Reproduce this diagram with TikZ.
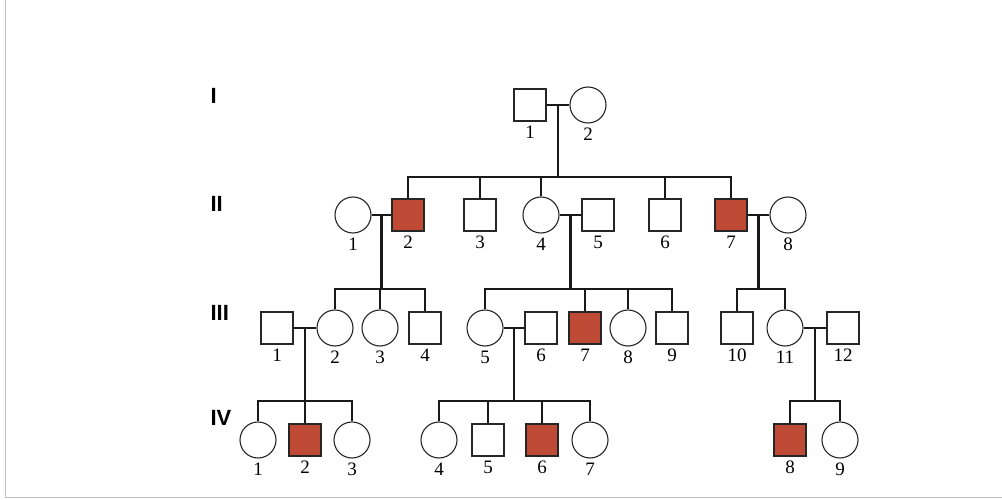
\documentclass[tikz,border=0pt]{standalone}
\usepackage{fontspec}
\setmainfont{Liberation Serif}
\newfontfamily\gensf{Liberation Sans}
\begin{document}
\begin{tikzpicture}[x=1pt,y=-1pt,
  ind/.style={draw=black!85,line width=1.1pt,minimum size=32pt,inner sep=0pt,fill=white,
     label={[font=\fontsize{19}{19}\selectfont,label distance=1pt]below:#1}},
  msq/.style={ind=#1,rectangle},
  fci/.style={ind=#1,circle,minimum size=36pt},
  aff/.style={msq=#1,fill=afc},
  ln/.style={line width=2.4pt,black!90},
  gen/.style={font=\gensf\bfseries\fontsize{22}{22}\selectfont,anchor=west}]
\definecolor{afc}{HTML}{BE4A35}
\useasboundingbox (0,0) rectangle (1002,500);
\draw[black!25,line width=1pt] (5,0) -- (5,497) -- (1002,497);
\node[gen] (gI) at (207,96) {I};
\node[gen] (gII) at (207,204) {II};
\node[gen] (gIII) at (207,313) {III};
\node[gen] (gIV) at (207,418) {IV};
% I
\node[msq=1] (I1) at (530,105) {};
\node[fci=2] (I2) at (588,105) {};
% II
\node[fci=1] (II1) at (353,215) {};
\node[aff=2] (II2) at (408,215) {};
\node[msq=3] (II3) at (480,215) {};
\node[fci=4] (II4) at (541,215) {};
\node[msq=5] (II5) at (598,215) {};
\node[msq=6] (II6) at (665,215) {};
\node[aff=7] (II7) at (731,215) {};
\node[fci=8] (II8) at (788,215) {};
% III
\node[msq=1] (III1) at (277,328) {};
\node[fci=2] (III2) at (335,328) {};
\node[fci=3] (III3) at (380,328) {};
\node[msq=4] (III4) at (425,328) {};
\node[fci=5] (III5) at (485,328) {};
\node[msq=6] (III6) at (541,328) {};
\node[aff=7] (III7) at (585,328) {};
\node[fci=8] (III8) at (628,328) {};
\node[msq=9] (III9) at (672,328) {};
\node[msq=10] (III10) at (737,328) {};
\node[fci=11] (III11) at (785,328) {};
\node[msq=12] (III12) at (843,328) {};
% IV
\node[fci=1] (IV1) at (258,440) {};
\node[aff=2] (IV2) at (305,440) {};
\node[fci=3] (IV3) at (352,440) {};
\node[fci=4] (IV4) at (439,440) {};
\node[msq=5] (IV5) at (488,440) {};
\node[aff=6] (IV6) at (542,440) {};
\node[fci=7] (IV7) at (590,440) {};
\node[aff=8] (IV8) at (790,440) {};
\node[fci=9] (IV9) at (840,440) {};
\coordinate (sA) at (0,177);
\coordinate (sB) at (0,289);
\coordinate (sC) at (0,401);
% matings
\draw[ln] (I1.east) -- coordinate (m1) (I2.west);
\draw[ln] (II1.east) -- coordinate (m2) (II2.west);
\draw[ln] (II4.east) -- coordinate (m3) (II5.west);
\draw[ln] (II7.east) -- coordinate (m4) (II8.west);
\draw[ln] (III1.east) -- coordinate (m5) (III2.west);
\draw[ln] (III5.east) -- coordinate (m6) (III6.west);
\draw[ln] (III11.east) -- coordinate (m7) (III12.west);
% descents
\draw[ln] (m1) -- (m1|-sA);
\draw[ln] (II2.north) |- (II7.north|-sA) -- (II7.north);
\foreach \n in {II3,II4,II6} \draw[ln] (\n.north) -- (\n.north|-sA);
\draw[ln] (m2) -- (m2|-sB);
\draw[ln] (III2.north) |- (III4.north|-sB) -- (III4.north);
\draw[ln] (III3.north) -- (III3.north|-sB);
\draw[ln] (m3) -- (m3|-sB);
\draw[ln] (III5.north) |- (III9.north|-sB) -- (III9.north);
\foreach \n in {III7,III8} \draw[ln] (\n.north) -- (\n.north|-sB);
\draw[ln] (m4) -- (m4|-sB);
\draw[ln] (III10.north) |- (III11.north|-sB) -- (III11.north);
\draw[ln] (m5) -- (m5|-sC);
\draw[ln] (IV1.north) |- (IV3.north|-sC) -- (IV3.north);
\draw[ln] (IV2.north) -- (IV2.north|-sC);
\draw[ln] (m6) -- (m6|-sC);
\draw[ln] (IV4.north) |- (IV7.north|-sC) -- (IV7.north);
\foreach \n in {IV5,IV6} \draw[ln] (\n.north) -- (\n.north|-sC);
\draw[ln] (m7) -- (m7|-sC);
\draw[ln] (IV8.north) |- (IV9.north|-sC) -- (IV9.north);
\end{tikzpicture}
\end{document}
